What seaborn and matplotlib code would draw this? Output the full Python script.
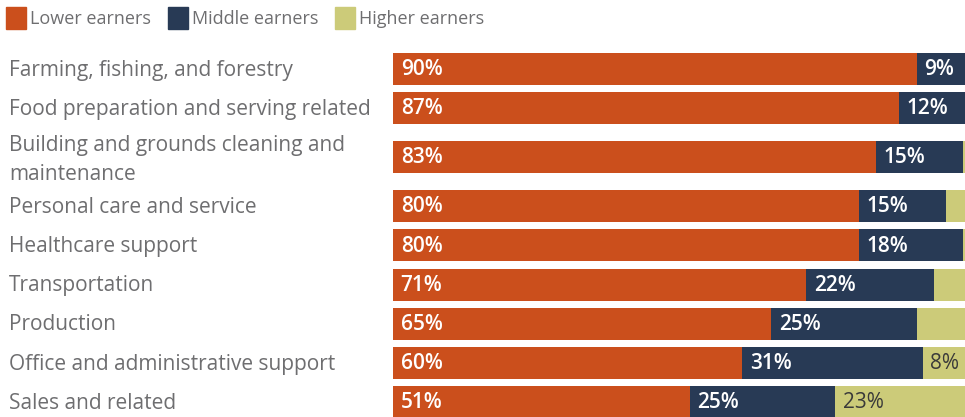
import numpy as np
import pandas as pd
import matplotlib
matplotlib.use("Agg")
import matplotlib.pyplot as plt
import matplotlib.transforms as mtransforms
from matplotlib.patches import Rectangle
import seaborn as sns

# Share of workers in each occupation group by earnings tier (%)
occupations = [
    "Farming, fishing, and forestry",
    "Food preparation and serving related",
    "Building and grounds cleaning and\nmaintenance",
    "Personal care and service",
    "Healthcare support",
    "Transportation",
    "Production",
    "Office and administrative support",
    "Sales and related",
]
lower = [90, 87, 83, 80, 80, 71, 65, 60, 51]
middle = [9, 12, 15, 15, 18, 22, 25, 31, 25]
higher = [1, 1, 2, 5, 2, 7, 10, 8, 23]
# higher-earner shares that carry a printed label
higher_labelled = [False, False, False, False, False, False, False, True, True]

series_names = ["Lower earners", "Middle earners", "Higher earners"]
colors = ["#CB4F1C", "#283A55", "#CCCB79"]
label_colors = ["white", "white", "#3a3a3a"]
text_grey = "#6e6e70"

sns.set_theme(style="white")
plt.rcParams["font.family"] = ["Open Sans", "DejaVu Sans"]

W, H = 965, 417
fig = plt.figure(figsize=(W / 100, H / 100), dpi=100)

# Row layout: two-line labels get a taller slot
slots = np.array([1.5 if "\n" in o else 1.0 for o in occupations])
centers = np.cumsum(slots) - slots / 2

pitch = 39.2           # pixels per slot unit
first_center_px = 69
top_px = first_center_px - centers[0] * pitch
y_bottom = centers[0] + (H - first_center_px) / pitch
ax_left, ax_width = 393, 582
ax = fig.add_axes([ax_left / W, 0, ax_width / W, (H - top_px) / H])

df = pd.DataFrame({
    "pos": centers,
    "lower": lower,
    "middle": middle,
    "higher": higher,
})
df["cum_mid"] = df["lower"] + df["middle"]
df["cum_all"] = df["cum_mid"] + df["higher"]

bar_kws = dict(y="pos", orient="h", native_scale=True, errorbar=None,
               width=0.82, linewidth=0, ax=ax)
sns.barplot(data=df, x="cum_all", color=colors[2], saturation=1, **bar_kws)
sns.barplot(data=df, x="cum_mid", color=colors[1], saturation=1, **bar_kws)
sns.barplot(data=df, x="lower", color=colors[0], saturation=1, **bar_kws)

ax.set_xlim(0, 100)
ax.set_ylim(y_bottom, 0)
ax.axis("off")

# Value labels inside the segments
for i, row in df.iterrows():
    starts = [0, row["lower"], row["cum_mid"]]
    vals = [row["lower"], row["middle"], row["higher"]]
    shows = [True, True, higher_labelled[i]]
    for s, v, show, lc in zip(starts, vals, shows, label_colors):
        if show:
            weight = "semibold" if lc == "white" else "normal"
            ax.annotate(f"{int(v)}%", xy=(s, row["pos"]), xytext=(5.5, -0.5),
                        textcoords="offset points", color=lc, fontsize=15,
                        fontweight=weight, va="center", ha="left")

# Occupation names, left-aligned at the figure edge
trans = mtransforms.blended_transform_factory(fig.transFigure, ax.transData)
for name, c in zip(occupations, centers):
    shift = 0.07 if "\n" in name else 0.03
    ax.text(9 / W, c + shift, name, transform=trans, ha="left", va="center",
            fontsize=15, color=text_grey, linespacing=1.48, clip_on=False)

# Legend row
legend_items = [(6, 30), (168, 192), (335, 359)]
for (sq_x, tx_x), name, col in zip(legend_items, series_names, colors):
    fig.patches.append(Rectangle((sq_x / W, 1 - 29 / H), 20 / W, 22 / H,
                                 transform=fig.transFigure, color=col))
    fig.text(tx_x / W, 1 - 18.5 / H, name, ha="left", va="center",
             fontsize=13, color=text_grey)

fig.savefig("out.png", dpi=100)
